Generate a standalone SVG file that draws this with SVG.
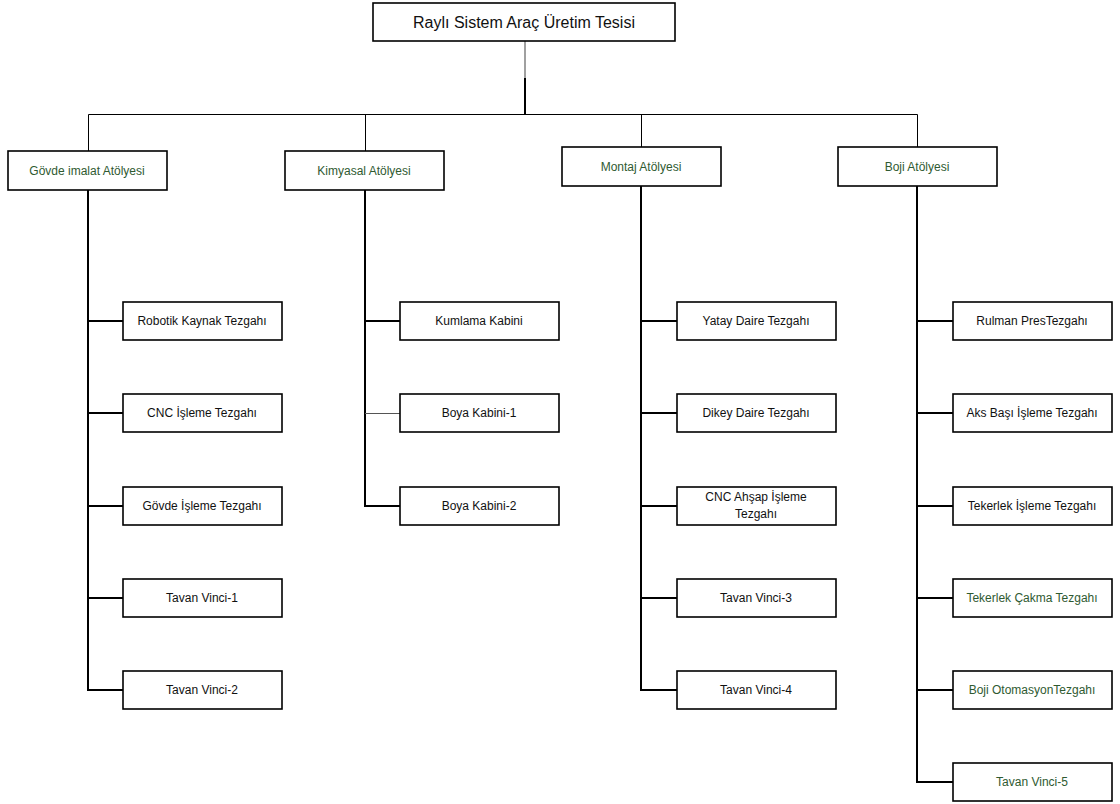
<svg xmlns="http://www.w3.org/2000/svg" width="1120" height="804" viewBox="0 0 1120 804">
<style>
.box{fill:#fff;stroke:#000;stroke-width:1.6}
.t{font-family:"Liberation Sans",Arial,sans-serif;font-size:12px;text-anchor:middle;fill:#111}
.g{fill:#2f5a31}
.c{fill:none;stroke:#000;stroke-width:2}
.c1{fill:none;stroke:#000;stroke-width:1}
</style>
<rect width="1120" height="804" fill="#fff"/>
<g id="connectors">
<line x1="525" y1="41" x2="525" y2="78" stroke="#808080" stroke-width="1.5"/>
<line x1="525" y1="78" x2="525" y2="114" class="c"/>
<polyline class="c1" points="88.5,151 88.5,114.5 917.5,114.5 917.5,147"/>
<line class="c1" x1="365.5" y1="114.5" x2="365.5" y2="151"/>
<line class="c1" x1="641.5" y1="114.5" x2="641.5" y2="147"/>
<!-- Gövde -->
<polyline class="c" points="88,190 88,690 123,690"/>
<line class="c" x1="88" y1="321" x2="123" y2="321"/>
<line class="c" x1="88" y1="413" x2="123" y2="413"/>
<line class="c" x1="88" y1="506" x2="123" y2="506"/>
<line class="c" x1="88" y1="598" x2="123" y2="598"/>
<!-- Kimyasal -->
<polyline class="c" points="365,190 365,506 400,506"/>
<line class="c" x1="365" y1="321" x2="400" y2="321"/>
<line x1="365" y1="413.5" x2="400" y2="413.5" stroke="#555" stroke-width="1"/>
<!-- Montaj -->
<polyline class="c" points="641,186 641,690 677,690"/>
<line class="c" x1="641" y1="321" x2="677" y2="321"/>
<line class="c" x1="641" y1="413" x2="677" y2="413"/>
<line class="c" x1="641" y1="506" x2="677" y2="506"/>
<line class="c" x1="641" y1="598" x2="677" y2="598"/>
<!-- Boji -->
<polyline class="c" points="917,186 917,782 953,782"/>
<line class="c" x1="917" y1="321" x2="953" y2="321"/>
<line class="c" x1="917" y1="413" x2="953" y2="413"/>
<line class="c" x1="917" y1="506" x2="953" y2="506"/>
<line class="c" x1="917" y1="598" x2="953" y2="598"/>
<line class="c" x1="917" y1="690" x2="953" y2="690"/>
</g>
<g id="root"><rect class="box" x="373" y="3" width="302" height="38"/><text class="t" x="524" y="28" style="font-size:16px">Raylı Sistem Araç Üretim Tesisi</text></g>
<g id="govde"><rect class="box" x="8" y="151" width="159" height="39"/><text class="t g" x="87" y="175">Gövde imalat Atölyesi</text></g>
<g id="kimyasal"><rect class="box" x="285" y="151" width="159" height="39"/><text class="t g" x="364" y="175">Kimyasal Atölyesi</text></g>
<g id="montaj"><rect class="box" x="562" y="147" width="159" height="39"/><text class="t g" x="641" y="171">Montaj Atölyesi</text></g>
<g id="boji"><rect class="box" x="838" y="147" width="159" height="39"/><text class="t g" x="917" y="171">Boji  Atölyesi</text></g>

<g id="robotik"><rect class="box" x="123" y="302" width="159" height="38"/><text class="t" x="202" y="325">Robotik Kaynak Tezgahı</text></g>
<g id="cnc"><rect class="box" x="123" y="394" width="159" height="38"/><text class="t" x="202" y="417">CNC İşleme Tezgahı</text></g>
<g id="govdeisleme"><rect class="box" x="123" y="487" width="159" height="38"/><text class="t" x="202" y="510">Gövde İşleme Tezgahı</text></g>
<g id="tv1"><rect class="box" x="123" y="579" width="159" height="38"/><text class="t" x="202" y="602">Tavan Vinci-1</text></g>
<g id="tv2"><rect class="box" x="123" y="671" width="159" height="38"/><text class="t" x="202" y="694">Tavan Vinci-2</text></g>

<g id="kumlama"><rect class="box" x="400" y="302" width="159" height="38"/><text class="t" x="479" y="325">Kumlama Kabini</text></g>
<g id="boya1"><rect class="box" x="400" y="394" width="159" height="38"/><text class="t" x="479" y="417">Boya Kabini-1</text></g>
<g id="boya2"><rect class="box" x="400" y="487" width="159" height="38"/><text class="t" x="479" y="510">Boya Kabini-2</text></g>

<g id="yatay"><rect class="box" x="677" y="302" width="159" height="38"/><text class="t" x="756" y="325">Yatay Daire Tezgahı</text></g>
<g id="dikey"><rect class="box" x="677" y="394" width="159" height="38"/><text class="t" x="756" y="417">Dikey Daire Tezgahı</text></g>
<g id="cncahsap"><rect class="box" x="677" y="487" width="159" height="38"/><text class="t" x="756" y="501">CNC Ahşap İşleme</text><text class="t" x="756" y="518">Tezgahı</text></g>
<g id="tv3"><rect class="box" x="677" y="579" width="159" height="38"/><text class="t" x="756" y="602">Tavan Vinci-3</text></g>
<g id="tv4"><rect class="box" x="677" y="671" width="159" height="38"/><text class="t" x="756" y="694">Tavan Vinci-4</text></g>

<g id="rulman"><rect class="box" x="953" y="302" width="159" height="38"/><text class="t" x="1032" y="325">Rulman PresTezgahı</text></g>
<g id="aks"><rect class="box" x="953" y="394" width="159" height="38"/><text class="t" x="1032" y="417">Aks Başı İşleme Tezgahı</text></g>
<g id="tekerlekisleme"><rect class="box" x="953" y="487" width="159" height="38"/><text class="t" x="1032" y="510">Tekerlek İşleme Tezgahı</text></g>
<g id="tekerlekcakma"><rect class="box" x="953" y="579" width="159" height="38"/><text class="t g" x="1032" y="602">Tekerlek Çakma Tezgahı</text></g>
<g id="otomasyon"><rect class="box" x="953" y="671" width="159" height="38"/><text class="t g" x="1032" y="694">Boji OtomasyonTezgahı</text></g>
<g id="tv5"><rect class="box" x="953" y="763" width="159" height="38"/><text class="t g" x="1032" y="786">Tavan Vinci-5</text></g>
</svg>
